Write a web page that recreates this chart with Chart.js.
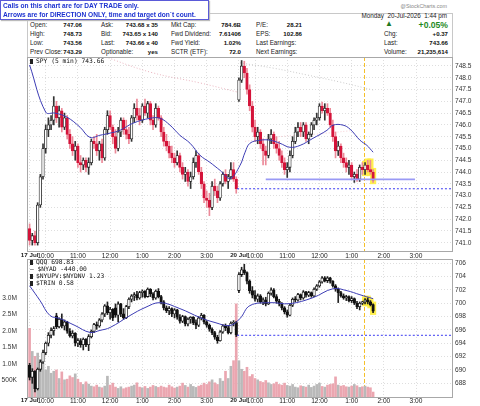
<!DOCTYPE html>
<html>
<head>
<meta charset="utf-8">
<script src="https://cdn.jsdelivr.net/npm/chart.js@4.4.0/dist/chart.umd.min.js"></script>
<style>
    body { margin: 0; width: 480px; height: 406px; background: #fff; position: relative; overflow: hidden; font-family: 'Liberation Sans', Arial, sans-serif; }
    canvas { position: absolute; left: 0; }
    #c1 { top: 0; }
    #c2 { top: 252px; }
    #c3 { top: 387px; }
    .t { position: absolute; white-space: nowrap; line-height: 8px; font-size: 6.3px; color: #222; }
    .v { font-weight: bold; font-size: 6.1px; color: #111; }
    .mono { font-family: 'DejaVu Sans Mono', monospace; font-size: 6.3px; color: #111; }
    .ico { display: inline-block; width: 3px; height: 5px; background: #222; margin-right: 3px; vertical-align: -1px; }
    #note { position: absolute; left: 0; top: 0; width: 207px; height: 18px; border: 1px solid #5a5ad8; background: #fff; z-index: 5; box-shadow: 1px 1px 1px #bbb; }
    #note div { position: absolute; left: 2px; font-size: 6.6px; font-weight: bold; color: #1d33d0; white-space: nowrap; }
    #hdr { position: absolute; left: 27px; top: 13px; width: 424px; height: 44px; border: 1px solid #c8c8c8; border-bottom: none; }
</style>
</head>
<body>
<div id="hdr"></div>
<div id="note">
    <div style="top:1px">Calls on this chart are for DAY TRADE only.</div>
    <div style="top:10px">Arrows are for DIRECTION ONLY, time and target don`t count.</div>
</div>
<div class="t" style="right:33px;top:2px;font-size:5.4px;color:#888">@StockCharts.com</div>
<div class="t" style="right:33px;top:12px">Monday&nbsp; 20-Jul-2026&nbsp; 1:44 pm</div>

<!-- info rows -->
<div class="t" style="left:30px;top:21px">Open:</div><div class="t v" style="right:398px;top:21px">747.06</div>
<div class="t" style="left:30px;top:30px">High:</div><div class="t v" style="right:398px;top:30px">748.73</div>
<div class="t" style="left:30px;top:39px">Low:</div><div class="t v" style="right:398px;top:39px">743.56</div>
<div class="t" style="left:30px;top:48px">Prev Close:</div><div class="t v" style="right:398px;top:48px">743.29</div>

<div class="t" style="left:101px;top:21px">Ask:</div><div class="t v" style="right:322px;top:21px">743.68 x 35</div>
<div class="t" style="left:101px;top:30px">Bid:</div><div class="t v" style="right:322px;top:30px">743.65 x 140</div>
<div class="t" style="left:101px;top:39px">Last:</div><div class="t v" style="right:322px;top:39px">743.66 x 40</div>
<div class="t" style="left:101px;top:48px">Optionable:</div><div class="t v" style="right:322px;top:48px">yes</div>

<div class="t" style="left:171px;top:21px">Mkt Cap:</div><div class="t v" style="right:239px;top:21px">784.6B</div>
<div class="t" style="left:171px;top:30px">Fwd Dividend:</div><div class="t v" style="right:239px;top:30px">7.61406</div>
<div class="t" style="left:171px;top:39px">Fwd Yield:</div><div class="t v" style="right:239px;top:39px">1.02%</div>
<div class="t" style="left:171px;top:48px">SCTR (ETF):</div><div class="t v" style="right:239px;top:48px">72.0</div>

<div class="t" style="left:256px;top:21px">P/E:</div><div class="t v" style="right:178px;top:21px">28.21</div>
<div class="t" style="left:256px;top:30px">EPS:</div><div class="t v" style="right:178px;top:30px">102.86</div>
<div class="t" style="left:256px;top:39px">Last Earnings:</div>
<div class="t" style="left:256px;top:48px">Next Earnings:</div>

<div class="t" style="left:385px;top:20px;font-size:8px;color:#1f7a1f">&#9650;</div>
<div class="t v" style="right:32px;top:20px;font-size:8.6px;color:#1f8a1f;line-height:10px">+0.05%</div>
<div class="t" style="left:384px;top:30px">Chg:</div><div class="t v" style="right:32px;top:30px">+0.37</div>
<div class="t" style="left:384px;top:39px">Last:</div><div class="t v" style="right:32px;top:39px">743.66</div>
<div class="t" style="left:384px;top:48px">Volume:</div><div class="t v" style="right:32px;top:48px">21,235,614</div>

<canvas id="c2" width="480" height="156"></canvas>
<canvas id="c3" width="480" height="20"></canvas>
<canvas id="c1" width="480" height="262"></canvas>

<!-- panel legends -->
<div class="t mono" style="left:30px;top:57px"><span class="ico"></span>SPY (5 min) 743.66</div>
<div class="t mono" style="left:30px;top:258px"><span class="ico"></span>QQQ 698.83</div>
<div class="t mono" style="left:30px;top:265px">&#8212; $NYAD -440.00</div>
<div class="t mono" style="left:30px;top:272px"><span class="ico"></span>$NYUPV:$NYDNV 1.23</div>
<div class="t mono" style="left:30px;top:279px"><span class="ico"></span>$TRIN 0.58</div>

<script>
// SPY 5 min, 17 Jul (bars 0-77) + 20 Jul (bars 78-128)
const spyOpen = [
    741.6, 741.1, 741.3, 741.0, 742.6, 743.8, 745.0, 745.8, 746.0, 746.2, 746.8, 746.3, 746.6, 745.9, 746.3, 745.6, 745.2, 744.9, 745.1, 744.4,
    744.3, 744.5, 744.2, 744.4, 745.3, 745.2, 744.9, 745.2, 744.6, 745.8, 746.4, 745.9, 745.5, 745.0, 745.7, 746.2, 745.8, 745.6, 745.4, 746.3,
    746.7, 746.4, 746.2, 746.8, 746.5, 746.9, 746.2, 746.0, 746.7, 746.3, 745.7, 745.3, 745.1, 744.8, 744.6, 744.4, 744.7, 744.2, 743.9, 744.0,
    743.6, 743.8, 744.4, 744.7, 744.0, 743.5, 742.9, 742.8, 742.5, 743.4, 743.2, 742.9, 743.5, 743.9, 743.6, 743.8, 744.1, 743.7,
    747.06, 747.9, 748.5, 748.2, 747.5, 746.8, 745.9, 745.5, 745.7, 745.2, 744.9, 744.7, 745.4, 745.6, 745.2, 745.0, 744.7, 744.4, 744.1, 744.2,
    744.7, 745.3, 745.7, 745.9, 745.7, 746.0, 745.4, 745.6, 746.0, 746.2, 746.3, 746.8, 746.6, 746.7, 746.5, 746.0, 745.5, 744.9, 745.1, 744.6,
    744.4, 744.2, 744.3, 743.8, 743.9, 743.7, 744.2, 744.1, 744.3, 744.1, 744.0
];
const spyHigh = [
    741.8, 741.4, 741.5, 742.7, 743.9, 745.2, 746.0, 746.3, 746.4, 747.2, 747.0, 746.8, 746.7, 746.5, 746.4, 745.8, 745.5, 745.3, 745.2, 744.7,
    744.6, 744.6, 744.6, 745.4, 745.5, 745.6, 745.3, 745.4, 745.9, 746.6, 746.6, 746.0, 745.8, 745.9, 746.3, 746.3, 746.2, 745.9, 746.4, 746.9,
    747.1, 746.7, 746.9, 747.1, 747.0, 747.0, 746.4, 746.9, 746.8, 746.4, 745.9, 745.6, 745.3, 745.1, 744.8, 744.9, 744.8, 744.4, 744.2, 744.1,
    744.0, 744.6, 744.9, 744.8, 744.2, 743.6, 743.2, 743.1, 743.6, 743.7, 743.4, 743.6, 744.0, 744.1, 743.9, 744.4, 744.4, 743.8,
    748.0, 748.73, 748.7, 748.4, 747.7, 747.0, 746.2, 745.9, 745.8, 745.4, 745.1, 745.6, 745.8, 745.7, 745.5, 745.3, 744.9, 744.6, 744.4, 744.9,
    745.5, 745.9, 746.1, 746.1, 746.1, 746.1, 745.7, 746.1, 746.3, 746.5, 746.9, 746.97, 746.9, 746.9, 746.7, 746.2, 745.7, 745.3, 745.2, 744.8,
    744.6, 744.5, 744.4, 744.0, 744.1, 744.3, 744.4, 744.4, 744.5, 744.5, 744.1
];
const spyLow = [
    740.9, 740.9, 740.9, 740.9, 742.5, 743.7, 744.8, 745.5, 745.8, 746.0, 746.1, 745.9, 745.7, 745.8, 745.4, 745.0, 744.7, 744.5, 744.2, 744.0,
    744.1, 744.0, 743.9, 744.3, 745.0, 744.7, 744.5, 744.4, 744.5, 745.6, 745.8, 745.2, 744.8, 744.9, 745.5, 745.6, 745.4, 745.2, 745.3, 746.1,
    746.2, 746.0, 746.1, 746.4, 746.3, 746.0, 745.8, 745.9, 746.2, 745.5, 745.1, 744.9, 744.6, 744.4, 744.2, 744.3, 744.0, 743.7, 743.6, 743.4,
    743.3, 743.7, 744.2, 743.9, 743.3, 742.7, 742.5, 742.15, 742.4, 743.0, 742.7, 742.8, 743.4, 743.5, 743.3, 743.7, 743.6, 743.1,
    747.0, 747.8, 748.0, 747.3, 746.6, 745.7, 745.3, 745.2, 745.0, 744.3, 744.3, 744.6, 745.2, 745.0, 744.8, 744.5, 744.2, 743.9, 743.77, 744.0,
    744.6, 745.2, 745.5, 745.5, 745.5, 745.3, 745.2, 745.5, 745.8, 746.0, 746.2, 746.5, 746.2, 746.4, 745.9, 745.3, 744.6, 744.7, 744.4, 744.2,
    744.0, 743.9, 743.7, 743.56, 743.6, 743.6, 743.9, 743.9, 744.0, 743.9, 743.56
];
const spyClose = [
    741.1, 741.3, 741.0, 742.6, 743.8, 745.0, 745.8, 746.0, 746.2, 746.8, 746.3, 746.6, 745.9, 746.3, 745.6, 745.2, 744.9, 745.1, 744.4, 744.3,
    744.5, 744.2, 744.4, 745.3, 745.2, 744.9, 745.2, 744.6, 745.8, 746.4, 745.9, 745.5, 745.0, 745.7, 746.2, 745.8, 745.6, 745.4, 746.3, 746.7,
    746.4, 746.2, 746.8, 746.5, 746.9, 746.2, 746.0, 746.7, 746.3, 745.7, 745.3, 745.1, 744.8, 744.6, 744.4, 744.7, 744.2, 743.9, 744.0, 743.6,
    743.8, 744.4, 744.7, 744.0, 743.5, 742.9, 742.8, 742.5, 743.4, 743.2, 742.9, 743.5, 743.9, 743.6, 743.8, 744.1, 743.7, 743.29,
    747.9, 748.5, 748.2, 747.5, 746.8, 745.9, 745.5, 745.7, 745.2, 744.9, 744.7, 745.4, 745.6, 745.2, 745.0, 744.7, 744.4, 744.1, 744.2, 744.7,
    745.3, 745.7, 745.9, 745.7, 746.0, 745.4, 745.6, 746.0, 746.2, 746.3, 746.8, 746.6, 746.7, 746.5, 746.0, 745.5, 744.9, 745.1, 744.6, 744.4,
    744.2, 744.3, 743.8, 743.9, 743.7, 744.2, 744.1, 744.3, 744.1, 744.0, 743.66
];

// QQQ 5 min (lower panel)
const qqqOpen = [
    690.7, 688.9, 689.8, 687.2, 690.1, 691.2, 692.6, 694.0, 695.2, 695.9, 698.1, 696.5, 697.6, 696.6, 697.2, 695.8, 695.1, 695.5, 694.0, 694.4,
    693.8, 694.6, 693.8, 695.0, 695.8, 696.8, 696.6, 697.5, 698.4, 699.6, 698.6, 699.1, 699.3, 698.2, 699.9, 698.4, 697.8, 699.5, 700.6, 701.1,
    701.3, 700.8, 701.6, 701.8, 701.0, 702.1, 701.4, 700.8, 701.8, 701.0, 700.2, 699.3, 698.9, 699.2, 698.4, 699.0, 697.9, 697.3, 698.0, 696.9,
    697.6, 697.9, 697.1, 696.7, 697.8, 698.2, 697.2, 696.7, 696.1, 695.6, 694.9, 694.4, 695.7, 696.6, 696.3, 695.6, 697.0, 697.1,
    701.9, 704.3, 705.0, 704.6, 703.3, 701.9, 701.2, 700.6, 701.1, 700.2, 700.5, 699.9, 701.5, 702.0, 701.0, 700.3, 699.9, 699.3, 698.7, 698.2,
    699.7, 700.6, 700.5, 701.3, 700.8, 701.7, 701.2, 701.6, 701.1, 702.1, 702.6, 703.2, 703.8, 703.4, 703.8, 703.3, 702.6, 702.1, 701.6, 701.1,
    700.8, 701.0, 700.4, 700.7, 700.0, 699.5, 700.0, 700.2, 700.5, 700.2, 699.8
];
const qqqHigh = [
    691.0, 690.2, 689.9, 690.3, 691.5, 693.0, 694.2, 695.6, 696.3, 696.5, 698.5, 697.8, 698.4, 697.5, 697.3, 696.2, 695.9, 695.6, 694.7, 694.7,
    694.8, 694.7, 695.3, 696.0, 697.0, 697.2, 697.7, 698.6, 699.8, 700.2, 699.4, 699.2, 699.9, 700.2, 700.0, 699.2, 699.7, 700.8, 701.3, 701.6,
    701.8, 701.8, 702.0, 701.9, 702.3, 702.2, 701.6, 702.0, 702.2, 701.2, 700.4, 699.6, 699.5, 699.3, 699.2, 699.1, 698.3, 698.2, 698.1, 697.8,
    698.0, 698.0, 697.5, 698.0, 698.5, 698.3, 697.4, 696.9, 696.3, 695.8, 695.2, 695.9, 696.8, 696.9, 696.6, 697.2, 697.4, 697.3,
    704.6, 705.4, 705.85, 704.7, 703.5, 702.5, 701.9, 701.4, 701.3, 700.8, 700.9, 701.7, 702.3, 702.2, 701.3, 700.6, 700.1, 699.5, 699.0, 699.9,
    700.8, 701.0, 701.5, 701.4, 701.9, 701.8, 701.8, 701.7, 702.3, 702.8, 703.4, 704.0, 704.0, 704.0, 703.9, 703.4, 702.8, 702.3, 701.8, 701.4,
    701.2, 701.1, 701.0, 700.8, 700.3, 700.2, 700.3, 700.7, 700.8, 700.4, 699.9
];
const qqqLow = [
    688.5, 688.0, 686.7, 687.0, 689.8, 691.0, 692.3, 693.6, 694.8, 695.2, 696.2, 696.3, 696.3, 696.0, 695.5, 694.9, 694.8, 693.6, 693.5, 693.4,
    693.0, 693.5, 692.9, 694.8, 695.6, 696.1, 696.4, 697.2, 698.0, 698.3, 697.6, 697.4, 697.9, 697.2, 698.0, 697.6, 697.7, 699.2, 700.2, 700.4,
    700.5, 700.6, 700.9, 700.8, 700.9, 701.0, 700.5, 700.6, 700.8, 699.9, 699.0, 698.6, 698.3, 698.0, 697.8, 697.6, 697.0, 697.1, 696.6, 696.6,
    697.0, 696.8, 696.2, 696.5, 697.5, 696.9, 696.4, 695.8, 695.3, 694.6, 694.0, 694.3, 695.5, 695.9, 695.4, 695.4, 696.6, 695.0,
    701.6, 704.0, 704.3, 702.9, 701.5, 700.8, 700.3, 700.2, 700.0, 699.8, 699.6, 699.8, 701.2, 700.8, 700.0, 699.6, 699.0, 698.4, 697.9, 698.1,
    699.5, 700.2, 700.3, 700.5, 700.6, 700.9, 701.0, 700.9, 701.0, 701.9, 702.4, 703.0, 703.2, 703.1, 703.0, 702.4, 701.8, 700.1, 700.9, 700.6,
    700.4, 700.2, 700.1, 699.8, 699.2, 699.0, 699.8, 699.9, 699.9, 699.6, 698.6
];
const qqqClose = [
    688.9, 689.8, 687.2, 690.1, 691.2, 692.6, 694.0, 695.2, 695.9, 696.2, 696.5, 697.6, 696.6, 697.2, 695.8, 695.1, 695.5, 694.0, 694.4, 693.8,
    694.6, 693.8, 695.0, 695.8, 696.8, 696.6, 697.5, 698.4, 699.6, 698.6, 699.1, 697.8, 698.2, 699.9, 698.4, 697.8, 699.5, 700.6, 701.1, 701.3,
    700.8, 701.6, 701.8, 701.0, 702.1, 701.4, 700.8, 701.8, 701.0, 700.2, 699.3, 698.9, 699.2, 698.4, 699.0, 697.9, 697.3, 698.0, 696.9, 697.6,
    697.9, 697.1, 696.7, 697.8, 698.2, 697.2, 696.7, 696.1, 695.6, 694.9, 694.4, 695.7, 696.6, 696.3, 695.6, 697.0, 697.1, 695.3,
    704.3, 705.0, 704.6, 703.3, 701.9, 701.2, 700.6, 701.1, 700.2, 700.5, 699.9, 701.5, 702.0, 701.0, 700.3, 699.9, 699.3, 698.7, 698.2, 699.7,
    700.6, 700.5, 701.3, 700.8, 701.7, 701.2, 701.6, 701.1, 702.1, 702.6, 703.2, 703.8, 703.4, 703.8, 703.3, 702.6, 702.1, 701.6, 701.1, 700.8,
    701.0, 700.4, 700.7, 700.0, 699.5, 700.0, 700.2, 700.5, 700.2, 699.8, 698.83
];

// volume, thousands of shares
const volumeK = [
    2080, 1380, 1230, 1330, 1130, 1030, 820, 930, 720, 780, 820, 560, 760, 520, 540, 640, 590, 700, 540, 440,
    380, 460, 390, 330, 310, 360, 300, 280, 330, 630, 360, 420, 300, 260, 310, 250, 280, 300, 330, 360,
    430, 300, 280, 320, 260, 300, 350, 320, 290, 330, 300, 280, 360, 310, 270, 300, 330, 420, 350, 300,
    380, 320, 290, 330, 360, 420, 380, 460, 520, 430, 380, 560, 480, 780, 560, 930, 1100, 2820,
    1100, 840, 780, 900, 620, 680, 560, 520, 470, 440, 500, 430, 380, 400, 450, 380, 360, 420, 350, 330,
    380, 300, 280, 340, 320, 300, 360, 290, 330, 380, 420, 320, 300, 360, 380, 400, 610, 360, 330, 350,
    310, 300, 330, 380, 340, 290, 310, 330, 300, 280, 150
];

// moving averages: [bar, value]
const spyMaPts = [
    [0, 748.54], [6, 746.54], [9.5, 746.5], [13.9, 746.33], [18.8, 745.9], [22.5, 745.47], [26.2, 745.56], [30, 745.65],
    [33.7, 745.77], [38.5, 746.07], [44.9, 746.28], [48.6, 746.28], [52.3, 745.99], [56, 745.56], [59.8, 745.22],
    [63.5, 744.71], [67.2, 744.41], [71, 744.07], [74.7, 743.73], [78.4, 744.28], [80.3, 744.84], [82.1, 745.22],
    [85.9, 745.35], [89.6, 745.35], [93.3, 745.22], [97, 745.05], [100.8, 745.13], [105.6, 745.43], [110.8, 745.77],
    [113.1, 745.99], [116.8, 745.99], [119.4, 745.82], [123.1, 745.35], [125.7, 745.13], [128, 744.84]
];
const spySlowPts = [[26.2, 748.97], [44.9, 748.24], [63.5, 747.78], [77.5, 747.39]];
const spySlow2Pts = [[78.4, 748.63], [90.7, 748.41], [103.3, 748.12], [115.6, 747.82], [128, 747.48]];
const spySlow3Pts = [[80.3, 745.3], [93, 745.5], [106, 745.6], [119.4, 745.75]];
const qqqMaPts = [
    [0, 702.62], [3.9, 700.39], [7.6, 698.16], [11.3, 697.71], [16.9, 696.67], [22.5, 695.63], [26.2, 695.93], [30, 696.37],
    [37.4, 698.16], [43, 699.35], [48.6, 700.09], [56, 699.2], [63.5, 697.86], [69.1, 697.11], [74.7, 696.67],
    [78.4, 697.71], [82.1, 699.65], [89.6, 700.09], [97, 699.94], [105.6, 700.84], [113.1, 702.18], [118.3, 701.88],
    [123.1, 701.28], [128, 700.69]
];

const spyPrevClose = 743.29;
const spySupport = 743.69;
const supportFrom = 88, supportTo = 143.6;
const qqqPrevClose = 695.2;
const markerBar = 124.6;
const highlightFrom = 125;

const xTicks = [0, 6, 18, 30, 42, 54, 66, 78, 84, 96, 108, 120, 132, 144];
const xTickLabels = ['17 Jul', '10:00', '11:00', '12:00', '1:00', '2:00', '3:00', '20 Jul', '10:00', '11:00', '12:00', '1:00', '2:00', '3:00'];
const dayTicks = [0, 78];
const spyTicks = [741.0, 741.5, 742.0, 742.5, 743.0, 743.5, 744.0, 744.5, 745.0, 745.5, 746.0, 746.5, 747.0, 747.5, 748.0, 748.5];
const qqqTicks = [688, 690, 692, 694, 696, 698, 700, 702, 704, 706];
const volTicks = [500, 1000, 1500, 2000, 2500, 3000];
const volTickLabels = ['500K', '1.0M', '1.5M', '2.0M', '2.5M', '3.0M'];

const RED = '#d4143a';
const GRID = '#dedede';

Chart.defaults.font.family = "'Liberation Sans', Arial, sans-serif";
Chart.defaults.color = '#333';

const pts = arr => arr.map(p => ({ x: p[0], y: p[1] }));
const bodies = (o, c) => o.map((v, i) => ({ x: i, y: [Math.min(v, c[i]), Math.max(v, c[i])] }));
const wicks = (h, l) => h.map((v, i) => ({ x: i, y: [l[i], v] }));
const highlight = (h, l, pad) => h.map((v, i) => i >= highlightFrom ? { x: i, y: [l[i] - pad, v + pad] } : null).filter(Boolean);

// рамка та жовта вертикальна лінія
const framePlugin = {
    id: 'frame',
    beforeDatasetsDraw(chart) {
        const { ctx, chartArea: a, scales } = chart;
        const x = Math.round(scales.x.getPixelForValue(markerBar)) + 0.5;
        ctx.save();
        ctx.strokeStyle = '#f5c02a';
        ctx.lineWidth = 1;
        ctx.setLineDash([4, 2]);
        ctx.beginPath();
        ctx.moveTo(x, a.top);
        ctx.lineTo(x, a.bottom);
        ctx.stroke();
        ctx.restore();
    },
    afterDraw(chart) {
        const { ctx, chartArea: a } = chart;
        ctx.save();
        ctx.strokeStyle = '#a8a8a8';
        ctx.lineWidth = 1;
        ctx.strokeRect(Math.round(a.left) + 0.5, Math.round(a.top) + 0.5, Math.round(a.right - a.left), Math.round(a.bottom - a.top));
        ctx.restore();
    }
};

function xScale(showLabels, showGrid) {
    return {
        type: 'linear',
        min: -0.97,
        max: 157.4,
        offset: false,
        afterBuildTicks: s => { s.ticks = xTicks.map(v => ({ value: v })); },
        afterFit: s => { s.height = 11; },
        ticks: {
            display: showLabels,
            autoSkip: false,
            maxTicksLimit: 40,
            maxRotation: 0,
            padding: 1,
            color: '#222',
            font: c => ({ size: dayTicks.includes(c.tick && c.tick.value) ? 6.2 : 6.6, weight: c.tick && dayTicks.includes(c.tick.value) ? 'bold' : 'normal' }),
            callback: (v, i) => xTickLabels[i]
        },
        grid: { display: showGrid, color: GRID, drawTicks: false, offset: false },
        border: { display: false, dash: [1, 2] }
    };
}

function priceScale(min, max, tickList, decimals) {
    return {
        type: 'linear',
        position: 'right',
        min: min,
        max: max,
        afterBuildTicks: s => { s.ticks = tickList.map(v => ({ value: v })); },
        afterFit: s => { s.width = 28; },
        ticks: { padding: 3, font: { size: 6.6 }, color: '#333', callback: v => v.toFixed(decimals) },
        grid: { color: GRID, drawTicks: false },
        border: { display: false, dash: [1, 2] }
    };
}

function candleDatasets(o, h, l, c, upFill, upLine, downFill, downLine, upWick, downWick, axis, pad) {
    const isDown = o.map((v, i) => c[i] < v);
    return [
        {
            type: 'bar', yAxisID: axis, order: 2, grouped: false, barThickness: 2.6, borderSkipped: false,
            data: bodies(o, c), minBarLength: 1,
            backgroundColor: isDown.map(d => d ? downFill : upFill),
            borderColor: isDown.map(d => d ? downLine : upLine),
            borderWidth: 0.8
        },
        {
            type: 'bar', yAxisID: axis, order: 3, grouped: false, barThickness: 1,
            data: wicks(h, l),
            backgroundColor: isDown.map(d => d ? downWick : upWick)
        },
        {
            type: 'bar', yAxisID: axis, order: 4, grouped: false, barThickness: 5.5,
            data: highlight(h, l, pad),
            backgroundColor: 'rgba(255, 238, 60, 0.9)'
        }
    ];
}

function lineSet(data, axis, color, width, dash, order) {
    return {
        type: 'line', yAxisID: axis, data: data, borderColor: color, borderWidth: width,
        borderDash: dash, pointRadius: 0, tension: 0.4, order: order, fill: false
    };
}

const common = {
    responsive: false,
    animation: false,
    events: [],
    plugins: { legend: { display: false }, tooltip: { enabled: false } }
};

// верхня панель: SPY
new Chart(document.getElementById('c1'), {
    type: 'bar',
    data: {
        datasets: [
            lineSet(pts(spyMaPts), 'y', '#3c3cb4', 1, [], 0),
            lineSet(pts(spySlowPts), 'y', 'rgba(225, 150, 165, 0.7)', 1, [1, 2], 5),
            lineSet(pts(spySlow2Pts), 'y', 'rgba(190, 190, 190, 0.8)', 1, [1, 2], 5),
            lineSet(pts(spySlow3Pts), 'y', 'rgba(240, 175, 185, 0.6)', 1, [1, 2], 5),
            lineSet([{ x: supportFrom, y: spySupport }, { x: supportTo, y: spySupport }], 'y', '#9a9af5', 1.8, [], 1),
            lineSet([{ x: 77.3, y: spyPrevClose }, { x: 157.4, y: spyPrevClose }], 'y', '#3a3af0', 1, [2, 2], 1),
            ...candleDatasets(spyOpen, spyHigh, spyLow, spyClose, '#ffffff', '#222222', RED, RED, '#333333', '#ec8a99', 'y', 0.06)
        ]
    },
    options: {
        ...common,
        layout: { padding: { top: 57, left: 27, right: 0, bottom: 0 } },
        scales: {
            x: xScale(true, true),
            y: priceScale(740.65, 748.88, spyTicks, 1)
        }
    },
    plugins: [framePlugin]
});

// нижня панель: QQQ + обсяг
const volUp = spyOpen.map((v, i) => spyClose[i] >= v);
new Chart(document.getElementById('c2'), {
    type: 'bar',
    data: {
        datasets: [
            lineSet(pts(qqqMaPts), 'y', '#3c3cb4', 1, [], 0),
            lineSet([{ x: 77.3, y: qqqPrevClose }, { x: 157.4, y: qqqPrevClose }], 'y', '#3a3af0', 1, [2, 2], 1),
            ...candleDatasets(qqqOpen, qqqHigh, qqqLow, qqqClose, '#ffffff', '#111111', '#111111', '#111111', '#222222', '#222222', 'y', 0.3),
            {
                type: 'bar', yAxisID: 'yv', order: 10, grouped: false, barThickness: 2,
                data: volumeK.map((v, i) => ({ x: i, y: v })),
                backgroundColor: volUp.map(u => u ? '#b9b9b9' : '#eba6b0')
            }
        ]
    },
    options: {
        ...common,
        layout: { padding: { top: 5, left: 0, right: 0, bottom: 0 } },
        scales: {
            x: xScale(false, true),
            y: priceScale(685.95, 706.64, qqqTicks, 0),
            yv: {
                type: 'linear',
                position: 'left',
                min: 0,
                max: 4180,
                afterBuildTicks: s => { s.ticks = volTicks.map(v => ({ value: v })); },
                afterFit: s => { s.width = 27; },
                ticks: { padding: 2, font: { size: 6.6 }, color: '#333', callback: v => volTickLabels[volTicks.indexOf(v)] },
                grid: { display: false },
                border: { display: false }
            }
        }
    },
    plugins: [framePlugin]
});

// вісь часу під нижньою панеллю
new Chart(document.getElementById('c3'), {
    type: 'line',
    data: { datasets: [] },
    options: {
        ...common,
        layout: { padding: { top: 0, left: 27, right: 28, bottom: 0 } },
        scales: {
            x: xScale(true, false),
            y: { display: false, min: 0, max: 1 }
        }
    }
});
</script>
</body>
</html>
